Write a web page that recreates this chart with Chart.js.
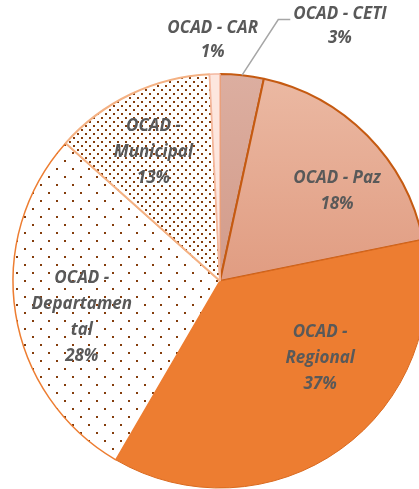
<!DOCTYPE html>
<html>
<head>
<meta charset="utf-8">
<script src="https://cdn.jsdelivr.net/npm/chart.js@4/dist/chart.umd.min.js"></script>
<style>
  html, body { margin: 0; padding: 0; background: #fff; overflow: hidden; }
  #wrap { width: 419px; height: 489px; overflow: hidden; }
</style>
</head>
<body>
<div id="wrap"><canvas id="ocadChart" width="440" height="489"></canvas></div>
<script>
// Distribucion OCAD
const categorias = [
  ["OCAD - CETI"],
  ["OCAD - Paz"],
  ["OCAD -", "Regional"],
  ["OCAD -", "Departamen", "tal"],
  ["OCAD -", "Municipal"],
  ["OCAD - CAR"],
];

const valores = [3.4, 18.4, 36.6, 28.2, 12.6, 0.8];

// where each label sits: shift from the slice middle (degrees) and distance (x radius)
const labelShift = [19.1, 7.2, -16.8, -5.6, -1.8, -0.3];
const labelDist = [1.36, 0.712, 0.61, 0.69, 0.7, 1.165];

function puntos(size, dots) {
  const c = document.createElement("canvas");
  c.width = size;
  c.height = size;
  const g = c.getContext("2d");
  g.fillStyle = "#ffffff";
  g.fillRect(0, 0, size, size);
  g.fillStyle = "#843c0c";
  dots.forEach(function (d) {
    g.fillRect(d[0], d[1], 2, 2);
  });
  return c;
}

const etiquetas = {
  id: "etiquetas",
  afterDatasetsDraw(chart) {
    const ctx = chart.ctx;
    const arcs = chart.getDatasetMeta(0).data;
    const total = valores.reduce((a, b) => a + b, 0);
    ctx.save();
    ctx.fillStyle = "#595959";
    ctx.textAlign = "center";
    ctx.textBaseline = "middle";
    ctx.font = "italic bold 17px 'Open Sans'";
    arcs.forEach(function (arc, i) {
      const p = arc.getProps(["x", "y", "startAngle", "endAngle", "outerRadius"], true);
      const mid = (p.startAngle + p.endAngle) / 2 + (labelShift[i] * Math.PI) / 180;
      const r = p.outerRadius * labelDist[i];
      const cx = p.x + Math.cos(mid) * r;
      const cy = p.y + Math.sin(mid) * r;
      const lines = categorias[i].concat([Math.round((valores[i] / total) * 100) + "%"]);
      const lh = labelDist[i] > 1 ? 23.5 : 26;
      const y0 = cy - ((lines.length - 1) * lh) / 2;
      lines.forEach(function (t, k) {
        ctx.fillText(t, cx, y0 + k * lh);
      });
      // leader line for the CETI label
      if (i === 0) {
        const m = (p.startAngle + p.endAngle) / 2;
        const w = ctx.measureText(lines[0]).width;
        const ex = cx - w / 2 - 3;
        const ey = y0 + 5;
        ctx.beginPath();
        ctx.strokeStyle = "#a6a6a6";
        ctx.lineWidth = 1.5;
        ctx.moveTo(p.x + Math.cos(m) * p.outerRadius, p.y + Math.sin(m) * p.outerRadius);
        ctx.lineTo(ex - 12, ey);
        ctx.lineTo(ex, ey);
        ctx.stroke();
      }
    });
    ctx.restore();
  },
};

document.addEventListener("DOMContentLoaded", function () {
  const ctx = document.getElementById("ocadChart").getContext("2d");

  const gradPaz = ctx.createLinearGradient(0, 75, 0, 290);
  gradPaz.addColorStop(0, "#ebb9a3");
  gradPaz.addColorStop(1, "#e09b80");
  const gradCeti = ctx.createLinearGradient(0, 75, 0, 290);
  gradCeti.addColorStop(0, "#dcaea0");
  gradCeti.addColorStop(1, "#d29a88");

  const relleno = [
    gradCeti,
    gradPaz,
    "#ed7d31",
    ctx.createPattern(puntos(16, [[0, 0], [8, 8]]), "repeat"),
    ctx.createPattern(puntos(8, [[1, 1], [5, 5]]), "repeat"),
    "#fde6de",
  ];

  new Chart(ctx, {
    type: "pie",
    data: {
      labels: categorias,
      datasets: [
        {
          data: valores,
          backgroundColor: relleno,
          borderColor: ["#c55a11", "#c55a11", "#d9691e", "#ed7d31", "#f4b183", "#f4b8a0"],
          borderWidth: [2, 2, 1, 1.5, 2, 1.5],
        },
      ],
    },
    options: {
      responsive: false,
      animation: false,
      layout: { padding: { top: 73, bottom: 0, left: 0, right: 0 } },
      plugins: {
        legend: { display: false },
        tooltip: { enabled: false },
      },
    },
    plugins: [etiquetas],
  });
});
</script>
</body>
</html>
